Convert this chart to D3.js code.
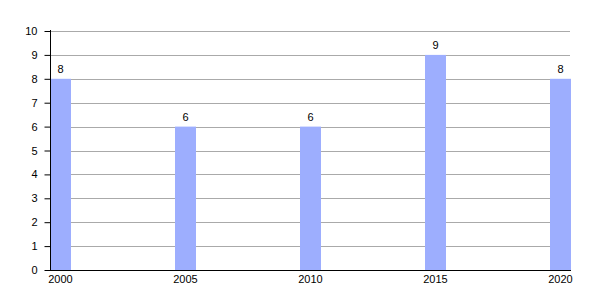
<!DOCTYPE html>
<html>
<head>
<meta charset="utf-8">
<script src="https://cdn.jsdelivr.net/npm/d3@7"></script>
<style>
  body { margin: 0; background: #fff; }
  text { font-family: "Liberation Sans", Arial, sans-serif; font-size: 11px; fill: #000; }
</style>
</head>
<body>
<svg id="chart" width="600" height="300"></svg>
<script>
// data
var years = ["2000", "2005", "2010", "2015", "2020"];
var values = [8, 6, 6, 9, 8];
var yTicks = [0, 1, 2, 3, 4, 5, 6, 7, 8, 9, 10];

var plotLeft = 50, plotRight = 571, plotTop = 31, plotBottom = 270;
var barWidth = 21;

var svg = d3.select("#chart");

var x = d3.scalePoint()
    .domain(years)
    .range([plotLeft, plotRight - barWidth]);

var y = d3.scaleLinear()
    .domain([0, 10])
    .range([plotBottom, plotTop]);

// grid lines
svg.append("g")
    .selectAll("line")
    .data(yTicks.slice(1))
    .enter()
    .append("line")
    .attr("x1", plotLeft)
    .attr("x2", plotRight - 1)
    .attr("y1", function(d) { return Math.round(y(d)) + 0.5; })
    .attr("y2", function(d) { return Math.round(y(d)) + 0.5; })
    .attr("stroke", "#aaa")
    .attr("stroke-width", 1);

// bars
svg.append("g")
    .selectAll("rect")
    .data(values)
    .enter()
    .append("rect")
    .attr("x", function(d, i) { return x(years[i]); })
    .attr("y", function(d) { return y(d); })
    .attr("width", barWidth)
    .attr("height", function(d) { return plotBottom - y(d); })
    .attr("fill", "#9daefe");

// value labels
svg.append("g")
    .selectAll("text")
    .data(values)
    .enter()
    .append("text")
    .attr("x", function(d, i) { return x(years[i]) + barWidth / 2; })
    .attr("y", function(d) { return y(d) - 6; })
    .attr("text-anchor", "middle")
    .text(function(d) { return d; });

// y axis
var yAxis = svg.append("g")
    .attr("transform", "translate(" + (plotLeft + 0.5) + ",0)")
    .call(d3.axisLeft(y).tickValues(yTicks).tickSize(6).tickPadding(7));
yAxis.select(".domain").attr("d", "M0," + (plotTop - 1) + "V" + (plotBottom + 0.5));
yAxis.selectAll("text").attr("font-size", null).attr("font-family", null);

// x axis line
svg.append("line")
    .attr("x1", plotLeft)
    .attr("x2", plotRight)
    .attr("y1", plotBottom + 0.5)
    .attr("y2", plotBottom + 0.5)
    .attr("stroke", "#000");

// x labels
svg.append("g")
    .selectAll("text")
    .data(years)
    .enter()
    .append("text")
    .attr("x", function(d) { return x(d) + barWidth / 2; })
    .attr("y", plotBottom + 13)
    .attr("text-anchor", "middle")
    .text(function(d) { return d; });
</script>
</body>
</html>
